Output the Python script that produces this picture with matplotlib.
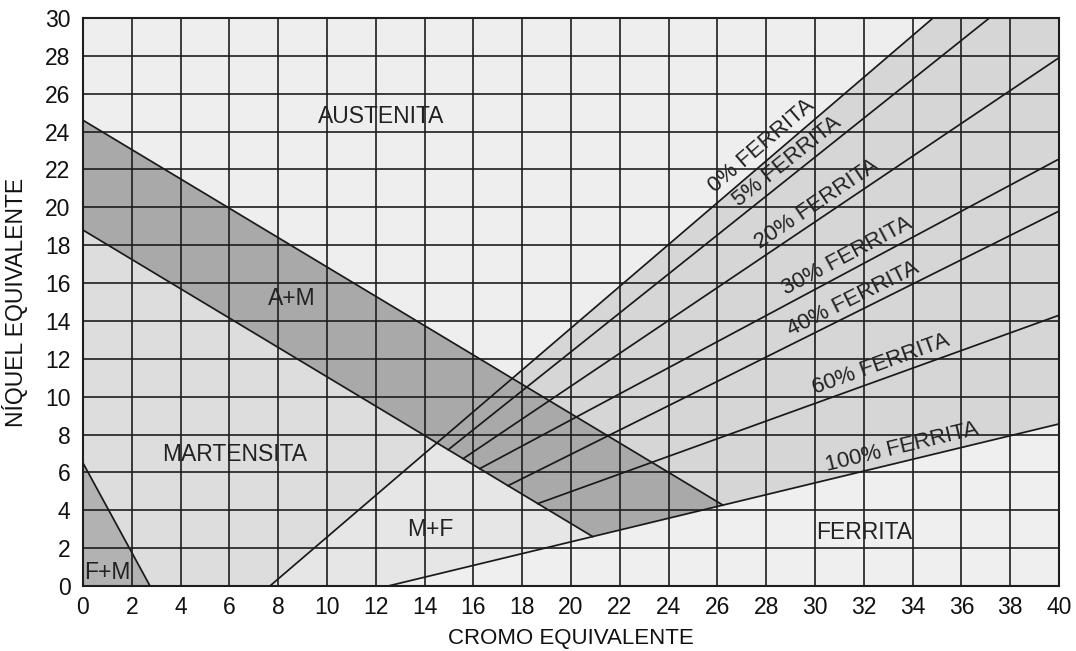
import math
import matplotlib
matplotlib.use('Agg')
import matplotlib.pyplot as plt
from matplotlib.patches import Polygon

plt.rcParams['font.family'] = ['Liberation Sans', 'DejaVu Sans']

# axis ticks
cr_ticks = list(range(0, 41, 2))
ni_ticks = list(range(0, 31, 2))

# boundary lines, two points each (Cr eq, Ni eq)
am_upper = [(0.0, 24.6), (26.0, 4.45)]
am_lower = [(0.0, 18.8), (20.8, 2.68)]
ferrite_0 = [(7.66, 0.0), (34.84, 30.0)]
ferrite_100 = [(12.5, 0.0), (40.0, 8.56)]
fm_line = [(0.0, 6.5), (2.75, 0.0)]

# intermediate ferrite lines: start x on the A+M lower line, end on the frame
ferrite_pct = [5, 20, 30, 40, 60]
ferrite_start_x = [14.97, 15.58, 16.26, 17.42, 18.64]
ferrite_end = [(37.15, 30.0), (40.0, 27.9), (40.0, 22.55), (40.0, 19.8), (40.0, 14.3)]

# labels of the ferrite lines (x where the label sits along its line)
label_pct = [0, 5, 20, 30, 40, 60, 100]
label_x = [28.2, 29.2, 30.4, 31.6, 31.8, 32.9, 33.7]

# region names
regions = ['AUSTENITA', 'A+M', 'MARTENSITA', 'M+F', 'FERRITA', 'F+M']
region_x = [12.2, 8.56, 6.22, 14.25, 32.0, 1.0]
region_y = [24.78, 15.2, 6.97, 3.0, 2.85, 0.71]


def coef(line):
    (x1, y1), (x2, y2) = line
    m = (y2 - y1) / (x2 - x1)
    return m, y1 - m * x1


def cross(l1, l2):
    m1, b1 = coef(l1)
    m2, b2 = coef(l2)
    x = (b2 - b1) / (m1 - m2)
    return (x, m1 * x + b1)


def y_at(line, x):
    m, b = coef(line)
    return m * x + b


fig = plt.figure(figsize=(10.76, 6.51), dpi=100)
ax = fig.add_axes([0.0771, 0.0998, 0.9071, 0.8726])
ax.set_xlim(0, 40)
ax.set_ylim(0, 30)
ax.set_facecolor('#eeeeee')

p_0_low = cross(ferrite_0, am_lower)
p_low_100 = cross(am_lower, ferrite_100)
p_up_100 = cross(am_upper, ferrite_100)

# shaded regions
af_poly = [ferrite_0[0], ferrite_0[1], (40, 30), ferrite_100[1], ferrite_100[0]]
mf_poly = [ferrite_0[0], p_0_low, p_low_100, ferrite_100[0]]
fe_poly = [ferrite_100[0], ferrite_100[1], (40, 0)]
ma_poly = [am_lower[0], p_0_low, ferrite_0[0], (0, 0)]
fm_poly = [fm_line[0], fm_line[1], (0, 0)]
am_poly = [am_upper[0], p_up_100, p_low_100, am_lower[0]]

for poly, col in [(af_poly, '#d6d6d6'), (mf_poly, '#e6e6e6'), (fe_poly, '#efefef'),
                  (ma_poly, '#dddddd'), (fm_poly, '#b2b2b2'), (am_poly, '#a9a9a9')]:
    ax.add_patch(Polygon(poly, closed=True, facecolor=col, edgecolor='none', zorder=1))

# boundary lines
lw = 1.25
lc = '#1a1a1a'
ax.plot([am_upper[0][0], p_up_100[0]], [am_upper[0][1], p_up_100[1]], color=lc, lw=lw, zorder=3)
ax.plot([am_lower[0][0], p_low_100[0]], [am_lower[0][1], p_low_100[1]], color=lc, lw=lw, zorder=3)
ax.plot(*zip(*ferrite_0), color=lc, lw=lw, zorder=3)
ax.plot(*zip(*ferrite_100), color=lc, lw=lw, zorder=3)
ax.plot(*zip(*fm_line), color=lc, lw=lw, zorder=3)

lines_by_pct = {0: ferrite_0, 100: ferrite_100}
for pct, xs, end in zip(ferrite_pct, ferrite_start_x, ferrite_end):
    start = (xs, y_at(am_lower, xs))
    ax.plot([start[0], end[0]], [start[1], end[1]], color=lc, lw=lw, zorder=3)
    lines_by_pct[pct] = [start, end]

# grid and frame
ax.set_xticks(cr_ticks)
ax.set_yticks(ni_ticks)
ax.grid(True, color='#1e1e1e', lw=1.2)
ax.set_axisbelow(False)
for s in ax.spines.values():
    s.set_linewidth(1.5)
    s.set_color('#1e1e1e')
ax.tick_params(length=0, labelsize=16.5, colors='#111111')
ax.tick_params(axis='y', pad=9)
ax.tick_params(axis='x', pad=7)

ax.set_xlabel('CROMO EQUIVALENTE', fontsize=16, color='#111111')
ax.set_ylabel('NÍQUEL EQUIVALENTE', fontsize=16.5, color='#111111')
ax.xaxis.set_label_coords(0.5, -0.074)
ax.yaxis.set_label_coords(-0.056, 0.5)

# region labels
for name, x, y in zip(regions, region_x, region_y):
    ax.text(x, y, name, fontsize=16.5, ha='center', va='center', color='#222222', zorder=4)

# ferrite line labels
for pct, x in zip(label_pct, label_x):
    line = lines_by_pct[pct]
    p1 = ax.transData.transform(line[0])
    p2 = ax.transData.transform(line[1])
    ang = math.degrees(math.atan2(p2[1] - p1[1], p2[0] - p1[0]))
    off = 10
    dx = -math.sin(math.radians(ang)) * off
    dy = math.cos(math.radians(ang)) * off
    ax.annotate(f'{pct}% FERRITA', (x, y_at(line, x)), xytext=(dx, dy),
                textcoords='offset points', rotation=ang, rotation_mode='anchor',
                ha='center', va='center', fontsize=16, color='#222222', zorder=4)

fig.savefig('out.png', dpi=100, facecolor='white')
